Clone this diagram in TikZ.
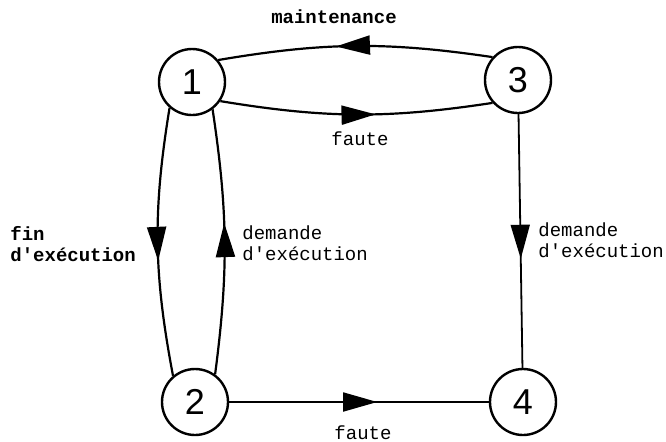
\documentclass[tikz,border=0pt]{standalone}
\usepackage{fontspec}
\setmonofont{Liberation Mono}
\newfontfamily\digitfont{Liberation Sans}
\usetikzlibrary{arrows.meta}
\usetikzlibrary{decorations.markings}
\usetikzlibrary{positioning}

\begin{document}
\begin{tikzpicture}[x=0.5pt, y=-0.5pt,
  state/.style={circle, minimum size=33pt, inner sep=0pt, line width=1.2pt, draw=black, font=\digitfont\fontsize{18}{18}\selectfont},
  lbl/.style={font=\ttfamily\fontsize{9.5}{10.5}\selectfont, align=left, inner sep=0pt},
  midarrow/.style={postaction={decorate}, decoration={markings, mark=at position 0.57 with {\arrow{Triangle[length=17pt, width=9.5pt]}}}},
  trans/.style={line width=1.1pt, color=black, midarrow}]
\useasboundingbox (0,0) rectangle (666,441);
\node (1) [state] at (192, 82)  {1};
\node (2) [state] at (195, 402) {2};
\node (3) [state] at (518, 80)  {3};
\node (4) [state] at (523, 402) {4};
\draw [trans] (3.138) to[bend right=9] (1.40);
\draw [trans] (1.-34) to[bend right=9] (3.222);
\draw [trans] (1.229) to[bend right=10] (2.130);
\draw [trans] (2.54) to[bend right=8] (1.307);
\draw [trans, line width=0.9pt] (3) to (4);
\draw [trans, line width=0.9pt] (2) to (4);
\node (lmaint) [lbl, anchor=base, font=\ttfamily\bfseries\fontsize{9.5}{10.5}\selectfont] at (334, 23) {maintenance};
\node (lfaute1) [lbl, anchor=base] at (360, 145) {faute};
\node (lfaute2) [lbl, anchor=base] at (363, 439) {faute};
\node (lfin) [lbl, anchor=west, font=\ttfamily\bfseries\fontsize{9.5}{10.5}\selectfont] at (10, 244) {fin\\d'exécution};
\node (ldem1) [lbl, anchor=west] at (242, 243) {demande\\d'exécution};
\node (ldem2) [lbl, anchor=west] at (538, 240) {demande\\d'exécution};
\end{tikzpicture}
\end{document}
